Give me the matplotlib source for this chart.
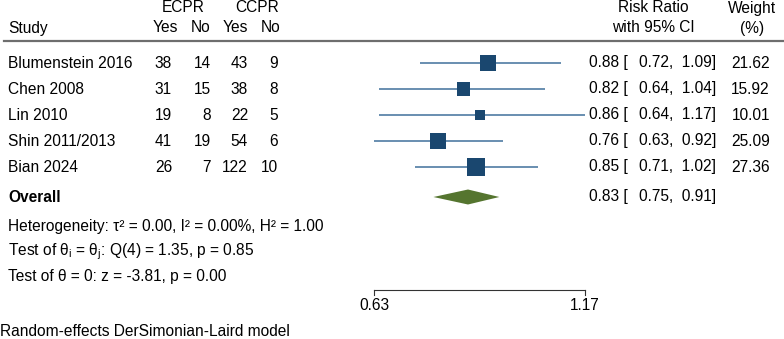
import numpy as np
import matplotlib
matplotlib.use('Agg')
import matplotlib.pyplot as plt
from matplotlib.transforms import blended_transform_factory

plt.rcParams['font.family'] = ['Liberation Sans', 'DejaVu Sans']
plt.rcParams['mathtext.fontset'] = 'custom'
plt.rcParams['mathtext.rm'] = 'Liberation Sans'
plt.rcParams['mathtext.it'] = 'Liberation Sans:italic'

# data
studies = ['Blumenstein 2016', 'Chen 2008', 'Lin 2010', 'Shin 2011/2013', 'Bian 2024']
ecpr_yes = [38, 31, 19, 41, 26]
ecpr_no = [14, 15, 8, 19, 7]
ccpr_yes = [43, 38, 22, 54, 122]
ccpr_no = [9, 8, 5, 6, 10]
rr = [0.88, 0.82, 0.86, 0.76, 0.85]
lo = [0.72, 0.64, 0.64, 0.63, 0.71]
hi = [1.09, 1.04, 1.17, 0.92, 1.02]
weight = [21.62, 15.92, 10.01, 25.09, 27.36]
overall = (0.83, 0.75, 0.91)
xticks = [0.63, 1.17]

W, H = 784, 339
fig = plt.figure(figsize=(W / 100, H / 100), dpi=100)
ax = fig.add_axes([0, 0, 1, 1])
ax.set_xscale('log')
# pixel 374 -> 0.63, pixel 585 -> 1.17
k = (np.log(1.17) - np.log(0.63)) / (585 - 374)
ax.set_xlim(0.63 * np.exp(-374 * k), 1.17 * np.exp((W - 585) * k))
ax.set_ylim(H, 0)
ax.axis('off')

tr = blended_transform_factory(ax.transAxes, ax.transData)
fs = 11.2


def txt(px, y, s, ha='left', **kw):
    ax.text(px / W, y, s, transform=tr, ha=ha, va='center', fontsize=fs, **kw)


# header
txt(183, 8, 'ECPR', ha='center')
txt(257, 8, 'CCPR', ha='center')
txt(8, 28, 'Study')
txt(178, 28, 'Yes', ha='right')
txt(211, 28, 'No', ha='right')
txt(248, 28, 'Yes', ha='right')
txt(281, 28, 'No', ha='right')
txt(653, 8, 'Risk Ratio', ha='center')
txt(653, 28, 'with 95% CI', ha='center')
txt(752, 8, 'Weight', ha='center')
txt(752, 28, '(%)', ha='center')
ax.plot([4 / W, 1], [40.5, 40.5], transform=tr, color='#6e6e6e', lw=1.6)

rows = 63 + 26 * np.arange(len(studies))
navy = '#1a476f'
for i, y in enumerate(rows):
    txt(8, y, studies[i])
    txt(172, y, str(ecpr_yes[i]), ha='right')
    txt(211, y, str(ecpr_no[i]), ha='right')
    txt(248, y, str(ccpr_yes[i]), ha='right')
    txt(278, y, str(ccpr_no[i]), ha='right')
    ax.plot([lo[i], hi[i]], [y, y], color='#4f7ca3', lw=1.2, solid_capstyle='butt')
    txt(589, y, f'{rr[i]:.2f} [', ha='left')
    txt(716, y, f'{lo[i]:.2f},  {hi[i]:.2f}]', ha='right')
    txt(770, y, f'{weight[i]:.2f}', ha='right')

ax.scatter(rr, rows, marker='s', s=[5.6 * w for w in weight], color=navy,
           linewidths=0, zorder=3)

# overall
yo = 197
txt(8, yo, 'Overall', fontweight='bold')
est, olo, ohi = overall
ax.fill([olo, est, ohi, est], [yo, yo - 7.5, yo, yo + 7.5], color='#55752f', lw=0)
txt(589, yo, f'{est:.2f} [', ha='left')
txt(716, yo, f'{olo:.2f},  {ohi:.2f}]', ha='right')

txt(8, 226, 'Heterogeneity: τ² = 0.00, I² = 0.00%, H² = 1.00')
txt(8, 252, r'Test of $\mathregular{θ_i}$ = $\mathregular{θ_j}$: Q(4) = 1.35, p = 0.85')
txt(8, 277, 'Test of θ = 0: z = -3.81, p = 0.00')

# x axis
ya = 290
ax.plot(xticks, [ya, ya], color='#333333', lw=0.8)
for t in xticks:
    ax.plot([t, t], [ya, ya + 5], color='#333333', lw=0.8)
    ax.text(t, ya + 15, f'{t:.2f}', ha='center', va='center', fontsize=fs)

txt(0, 332, 'Random-effects DerSimonian-Laird model')

fig.savefig('out.png', dpi=100)
